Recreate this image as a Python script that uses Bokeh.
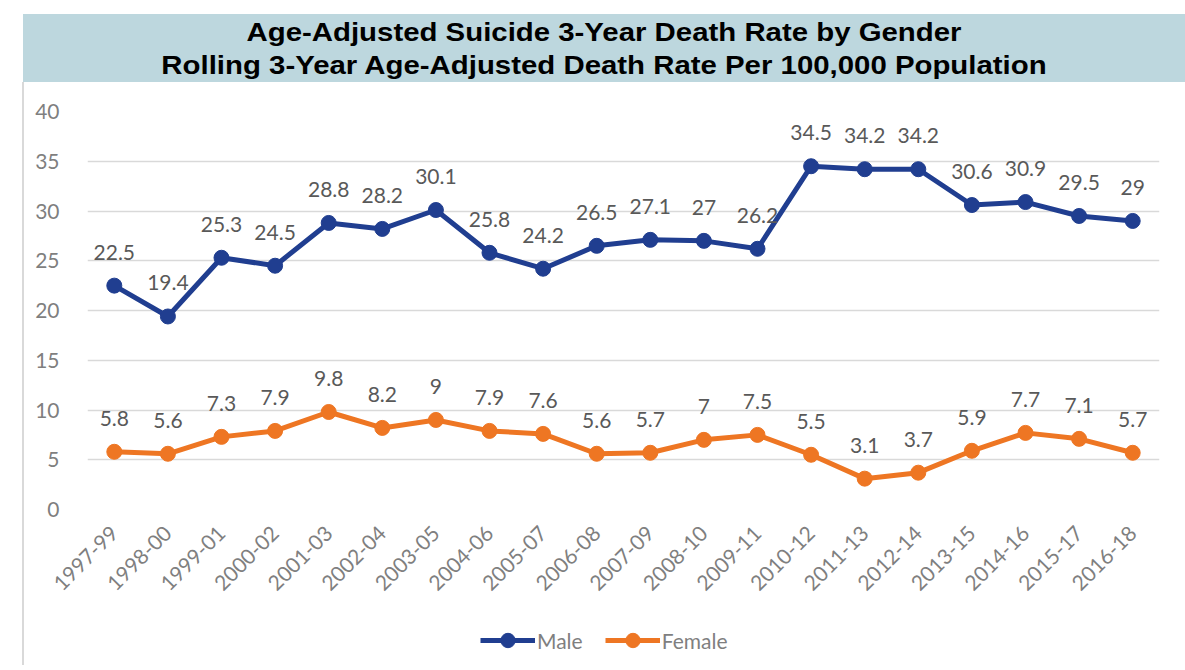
from bokeh.plotting import figure
from bokeh.models import ColumnDataSource, Legend, LegendItem, Div, Spacer, FixedTicker
from bokeh.layouts import column, row
from bokeh.embed import file_html
from bokeh.resources import INLINE
from bokeh.core.properties import value

periods = ["1997-99", "1998-00", "1999-01", "2000-02", "2001-03", "2002-04", "2003-05",
           "2004-06", "2005-07", "2006-08", "2007-09", "2008-10", "2009-11", "2010-12",
           "2011-13", "2012-14", "2013-15", "2014-16", "2015-17", "2016-18"]
male = [22.5, 19.4, 25.3, 24.5, 28.8, 28.2, 30.1, 25.8, 24.2, 26.5, 27.1, 27, 26.2,
        34.5, 34.2, 34.2, 30.6, 30.9, 29.5, 29]
female = [5.8, 5.6, 7.3, 7.9, 9.8, 8.2, 9, 7.9, 7.6, 5.6, 5.7, 7, 7.5, 5.5, 3.1, 3.7,
          5.9, 7.7, 7.1, 5.7]
y_ticks = [0, 5, 10, 15, 20, 25, 30, 35, 40]
series_names = ["Male", "Female"]
title_line1 = "Age-Adjusted Suicide 3-Year Death Rate by Gender"
title_line2 = "Rolling 3-Year Age-Adjusted Death Rate Per 100,000 Population"

MALE_C = "#203E90"
FEMALE_C = "#EE7623"
GRAY = "#7f7f7f"
FONT = "Lato"

src = ColumnDataSource(dict(
    period=periods,
    male=male,
    female=female,
    male_lbl=[f"{v:g}" for v in male],
    female_lbl=[f"{v:g}" for v in female],
))

p = figure(x_range=periods, y_range=(0, 40), width=1153, height=533,
           output_backend="svg", toolbar_location=None, margin=0,
           min_border_left=63, min_border_right=18, min_border_top=29, min_border_bottom=106)
p.outline_line_color = None
p.xgrid.grid_line_color = None
p.ygrid.grid_line_color = "#d9d9d9"
p.ygrid.grid_line_width = 1.5
p.yaxis.ticker = FixedTicker(ticks=y_ticks)
for ax in (p.xaxis, p.yaxis):
    ax.axis_line_color = None
    ax.major_tick_line_color = None
    ax.minor_tick_line_color = None
    ax.major_label_text_color = GRAY
    ax.major_label_text_font = FONT
    ax.major_label_text_font_size = "21px"
p.yaxis.major_label_standoff = 22
p.xaxis.major_label_orientation = 0.785398
p.xaxis.major_label_standoff = 14

p.line("period", "male", source=src, line_color=MALE_C, line_width=5)
p.scatter("period", "male", source=src, size=15, fill_color=MALE_C, line_color=MALE_C)
p.line("period", "female", source=src, line_color=FEMALE_C, line_width=5)
p.scatter("period", "female", source=src, size=15, fill_color=FEMALE_C, line_color=FEMALE_C)

for col in ("male", "female"):
    p.text("period", col, text=col + "_lbl", source=src, text_align="center",
           text_baseline="bottom", y_offset=-26, text_color="#595959",
           text_font=value(FONT), text_font_size="21px")

# legend strip below the chart (series drawn outside its visible range, only the legend shows)
lf = figure(width=1153, height=50, x_range=periods, y_range=(100, 101),
            x_axis_location=None, y_axis_location=None,
            output_backend="svg", toolbar_location=None, margin=0,
            min_border=0, min_border_left=0, min_border_right=0,
            min_border_top=0, min_border_bottom=0)
lf.grid.visible = False
lf.outline_line_color = None
items = []
for name, col, c in zip(series_names, ("male", "female"), (MALE_C, FEMALE_C)):
    r1 = lf.line("period", col, source=src, line_color=c, line_width=5)
    r2 = lf.scatter("period", col, source=src, size=15, fill_color=c, line_color=c)
    items.append(LegendItem(label=name, renderers=[r1, r2]))
legend = Legend(items=items, orientation="horizontal", location=(393, 7))
legend.border_line_color = None
legend.background_fill_alpha = 0
legend.label_text_font = FONT
legend.label_text_font_size = "21px"
legend.label_text_color = GRAY
legend.glyph_width = 55
legend.glyph_height = 36
legend.spacing = 22
legend.label_standoff = 2
legend.padding = 0
legend.margin = 0
lf.add_layout(legend, "center")

title_html = (
    '<div style="width:1162px;padding-top:2px;text-align:center;'
    'font-family:\'Liberation Sans\',Arial,sans-serif;font-weight:bold;'
    'font-size:25px;line-height:32.5px;color:#000;">'
    f'<div style="transform:scaleX(1.175);transform-origin:center;">{title_line1}<br>{title_line2}</div></div>'
)
band = Div(text=title_html, width=1162, height=68, margin=0,
           styles={"background-color": "#BDD7DE"})
border = Div(text="", width=2, height=583, margin=0, styles={"background-color": "#d9d9d9"})

layout = column(
    Spacer(height=14, margin=0),
    row(Spacer(width=23, margin=0), band, margin=0),
    row(Spacer(width=22, margin=0), border, column(p, lf, margin=0), margin=0),
    margin=0,
)

open("out.html", "w").write(file_html(layout, INLINE))
